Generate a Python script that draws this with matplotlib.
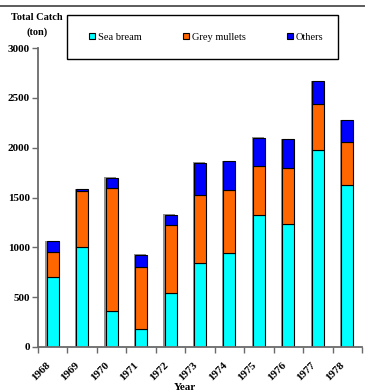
import matplotlib
matplotlib.use("Agg")
import matplotlib.pyplot as plt
import matplotlib.transforms as mtransforms
from matplotlib.patches import Rectangle, Patch
from matplotlib.lines import Line2D
import numpy as np

years = ["1968", "1969", "1970", "1971", "1972", "1973", "1974", "1975", "1976", "1977", "1978"]
sea_bream = [700, 1000, 360, 180, 540, 840, 940, 1325, 1230, 1980, 1630]
grey_mullets = [250, 565, 1240, 620, 680, 690, 640, 495, 570, 455, 425]
others = [110, 20, 100, 125, 105, 320, 285, 280, 285, 230, 220]
series_names = ["Sea bream", "Grey mullets", "Others"]
colors = ["#00FFFF", "#FF6600", "#0000FF"]
yticks = [0, 500, 1000, 1500, 2000, 2500, 3000]

plt.rcParams['font.family'] = ['Liberation Serif', 'DejaVu Serif']

W, H = 365, 391
fig = plt.figure(figsize=(W / 100, H / 100), dpi=100)
ax = fig.add_axes([38 / W, 1 - 347 / H, (362 - 38) / W, (347 - 48) / H])

x = np.arange(len(years))
bw = 0.41
sb = np.array(sea_bream)
gm = np.array(grey_mullets)
ot = np.array(others)

# grey shadow behind bars
shadow_off = mtransforms.offset_copy(ax.transData, fig=fig, x=-1.2, y=0.5, units='dots')
ax.bar(x, sb + gm + ot, bw, color='#909090', edgecolor='none', transform=shadow_off, zorder=1)

ax.bar(x, sb, bw, color=colors[0], edgecolor='black', linewidth=0.8, zorder=2)
ax.bar(x, gm, bw, bottom=sb, color=colors[1], edgecolor='black', linewidth=0.8, zorder=2)
ax.bar(x, ot, bw, bottom=sb + gm, color=colors[2], edgecolor='black', linewidth=0.8, zorder=2)

ax.set_xlim(-0.5, len(years) - 0.5)
ax.set_ylim(0, 3000)

for s in ['top', 'right']:
    ax.spines[s].set_visible(False)
for s in ['left', 'bottom']:
    ax.spines[s].set_color('#6a6a6a')
    ax.spines[s].set_linewidth(1.3)

ax.set_yticks(yticks)
ax.set_yticklabels([str(v) for v in yticks], fontsize=8, fontweight='bold')
ax.tick_params(axis='y', direction='out', length=4, width=1, color='#6a6a6a', pad=2)

ax.set_xticks(x)
ax.set_xticklabels(years, fontsize=8, fontweight='bold', rotation=45,
                   ha='right', va='top', rotation_mode='anchor')
ax.set_xticks(np.arange(-0.5, len(years), 1.0), minor=True)
ax.tick_params(axis='x', which='major', length=0, pad=10)
ax.tick_params(axis='x', which='minor', direction='out', length=4, width=1, color='#6a6a6a')
offset = mtransforms.ScaledTranslation(-7 / 100, 0, fig.dpi_scale_trans)
for lab in ax.get_xticklabels():
    lab.set_transform(lab.get_transform() + offset)

# titles
fig.text(37 / W, 1 - 17 / H, "Total Catch", ha='center', va='center',
         fontsize=7.5, fontweight='bold')
fig.text(37 / W, 1 - 32 / H, "(ton)", ha='center', va='center',
         fontsize=7.5, fontweight='bold')
fig.text(185 / W, 1 - 383 / H, "Year", ha='center', va='top',
         fontsize=8, fontweight='bold')

# top rule line
fig.add_artist(Line2D([0, 1], [1 - 5.5 / H, 1 - 5.5 / H], transform=fig.transFigure,
                      color='#404040', linewidth=1.2))

# legend frame
fig.add_artist(Rectangle((67 / W, 1 - 59 / H), (338 - 67) / W, (59 - 14.7) / H,
                         transform=fig.transFigure, fill=False, edgecolor='black',
                         linewidth=1.0, zorder=5))
handles = [Patch(facecolor=c, edgecolor='black', linewidth=0.8) for c in colors]
fig.legend(handles, series_names, loc='center left',
           bbox_to_anchor=(89 / W, 1 - 37 / H), ncol=3, frameon=False,
           fontsize=7.5, handlelength=0.6, handleheight=0.6, handletextpad=0.3,
           columnspacing=3.9, borderpad=0, borderaxespad=0)

fig.savefig("out.png", dpi=100)
